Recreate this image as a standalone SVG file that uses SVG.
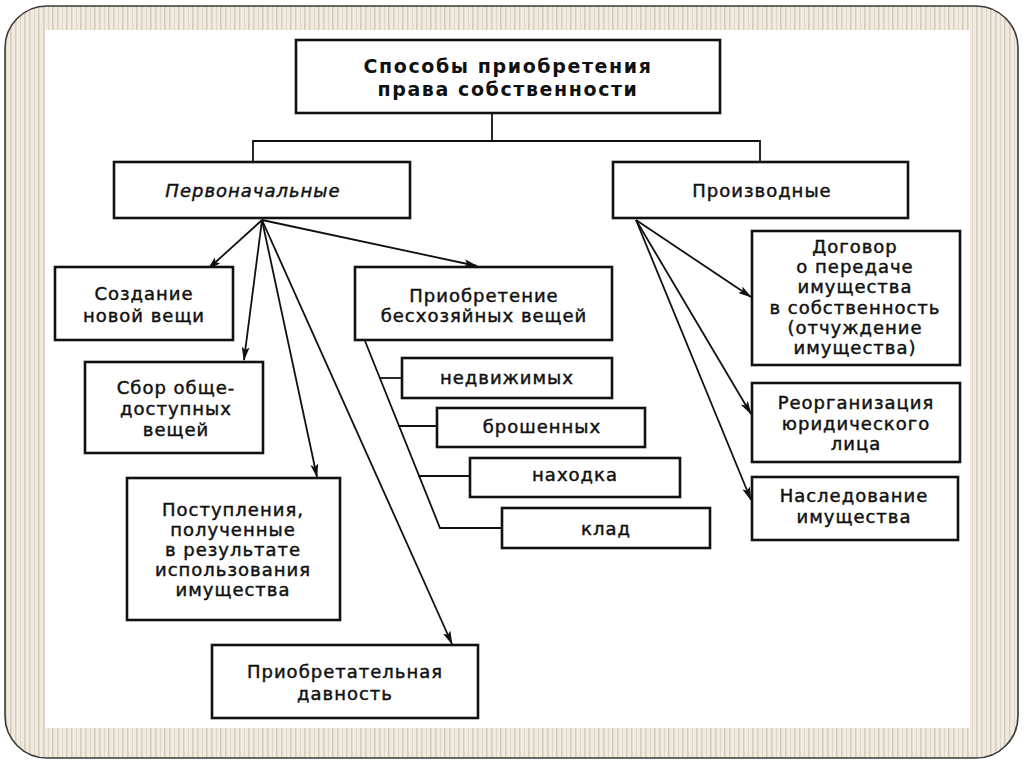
<svg xmlns="http://www.w3.org/2000/svg" width="1024" height="767" viewBox="0 0 1024 767">
<defs>
<pattern id="stripes" x="0" y="0" width="14" height="10" patternUnits="userSpaceOnUse">
<rect width="14" height="10" fill="#f0ebde"/>
<rect x="1" width="1.5" height="10" fill="#d6cebe"/>
<rect x="6" width="1" height="10" fill="#ddd6c6"/>
<rect x="10" width="1.5" height="10" fill="#d3cbba"/>
</pattern>
<marker id="arr" viewBox="0 0 14 8" refX="13" refY="4" markerWidth="14" markerHeight="8" markerUnits="userSpaceOnUse" orient="auto">
<path d="M0,0 L14,4 L0,8 L3,4 z" fill="#111"/>
</marker>
<style>
.box{fill:#fff;stroke:#111;stroke-width:2.6}
.ln{fill:none;stroke:#111;stroke-width:1.8}
.t{font-family:"DejaVu Sans","Liberation Sans",sans-serif;font-size:18px;fill:#111;stroke:#111;stroke-width:0.45;text-anchor:middle;letter-spacing:1px}
.tb{font-family:"DejaVu Sans","Liberation Sans",sans-serif;font-size:19px;font-weight:bold;fill:#111;text-anchor:middle;letter-spacing:1.6px}
</style>
</defs>
<rect x="0" y="0" width="1024" height="767" fill="#fff"/>
<rect x="5" y="6" width="1013" height="752" rx="42" ry="42" fill="url(#stripes)" stroke="#3a3a3a" stroke-width="1.6"/>
<rect x="45" y="30" width="925" height="698" fill="#fff"/>

<g id="connectors">
<polyline class="ln" points="492,113 492,141"/>
<polyline class="ln" points="253,163 253,141 760,141 760,163"/>
<line class="ln" x1="262" y1="220" x2="208" y2="269" marker-end="url(#arr)"/>
<line class="ln" x1="262" y1="220" x2="244" y2="360" marker-end="url(#arr)"/>
<line class="ln" x1="262" y1="220" x2="317" y2="477" marker-end="url(#arr)"/>
<line class="ln" x1="262" y1="220" x2="452" y2="644" marker-end="url(#arr)"/>
<line class="ln" x1="262" y1="220" x2="477" y2="266" marker-end="url(#arr)"/>
<polyline class="ln" points="365,341 440,528 502,528"/>
<line class="ln" x1="379" y1="378" x2="402" y2="378"/>
<line class="ln" x1="398" y1="426" x2="437" y2="426"/>
<line class="ln" x1="418" y1="476" x2="470" y2="476"/>
<line class="ln" x1="636" y1="220" x2="751" y2="297" marker-end="url(#arr)"/>
<line class="ln" x1="636" y1="220" x2="751" y2="414" marker-end="url(#arr)"/>
<line class="ln" x1="636" y1="220" x2="751" y2="500" marker-end="url(#arr)"/>
</g>

<g id="root">
<rect class="box" x="296" y="40" width="424" height="73"/>
<text class="tb" x="508" y="73">Способы приобретения</text>
<text class="tb" x="508" y="96">права собственности</text>
</g>
<g id="pervonachalnye">
<rect class="box" x="114" y="162" width="296" height="56"/>
<text class="t" x="253" y="197" font-style="italic" letter-spacing="2">Первоначальные</text>
</g>
<g id="proizvodnye">
<rect class="box" x="613" y="162" width="295" height="56"/>
<text class="t" x="762" y="197" letter-spacing="2">Производные</text>
</g>
<g id="sozdanie">
<rect class="box" x="55" y="267" width="178" height="73"/>
<text class="t" x="144" y="300">Создание</text>
<text class="t" x="144" y="322">новой вещи</text>
</g>
<g id="sbor">
<rect class="box" x="85" y="362" width="178" height="91"/>
<text class="t" x="176" y="394">Сбор обще-</text>
<text class="t" x="176" y="415">доступных</text>
<text class="t" x="176" y="436">вещей</text>
</g>
<g id="postupleniya">
<rect class="box" x="127" y="478" width="213" height="142"/>
<text class="t" x="233" y="516">Поступления,</text>
<text class="t" x="233" y="536">полученные</text>
<text class="t" x="233" y="556">в результате</text>
<text class="t" x="233" y="576">использования</text>
<text class="t" x="233" y="596">имущества</text>
</g>
<g id="davnost">
<rect class="box" x="212" y="645" width="266" height="73"/>
<text class="t" x="345" y="678">Приобретательная</text>
<text class="t" x="345" y="700">давность</text>
</g>
<g id="beskhozyainye">
<rect class="box" x="355" y="267" width="257" height="73"/>
<text class="t" x="484" y="302">Приобретение</text>
<text class="t" x="484" y="322">бесхозяйных вещей</text>
</g>
<g id="nedvizhimykh">
<rect class="box" x="402" y="358" width="210" height="40"/>
<text class="t" x="507" y="384">недвижимых</text>
</g>
<g id="broshennykh">
<rect class="box" x="437" y="408" width="208" height="39"/>
<text class="t" x="542" y="433">брошенных</text>
</g>
<g id="nakhodka">
<rect class="box" x="470" y="458" width="210" height="39"/>
<text class="t" x="575" y="481">находка</text>
</g>
<g id="klad">
<rect class="box" x="502" y="508" width="208" height="40"/>
<text class="t" x="606" y="535">клад</text>
</g>
<g id="dogovor">
<rect class="box" x="752" y="231" width="208" height="134"/>
<text class="t" x="855" y="253">Договор</text>
<text class="t" x="855" y="273">о передаче</text>
<text class="t" x="855" y="293">имущества</text>
<text class="t" x="855" y="314" letter-spacing="0.3">в собственность</text>
<text class="t" x="855" y="334">(отчуждение</text>
<text class="t" x="855" y="354">имущества)</text>
</g>
<g id="reorganizatsiya">
<rect class="box" x="752" y="383" width="208" height="79"/>
<text class="t" x="856" y="409">Реорганизация</text>
<text class="t" x="856" y="430">юридического</text>
<text class="t" x="856" y="450">лица</text>
</g>
<g id="nasledovanie">
<rect class="box" x="752" y="477" width="206" height="63"/>
<text class="t" x="854" y="502">Наследование</text>
<text class="t" x="854" y="523">имущества</text>
</g>
</svg>
